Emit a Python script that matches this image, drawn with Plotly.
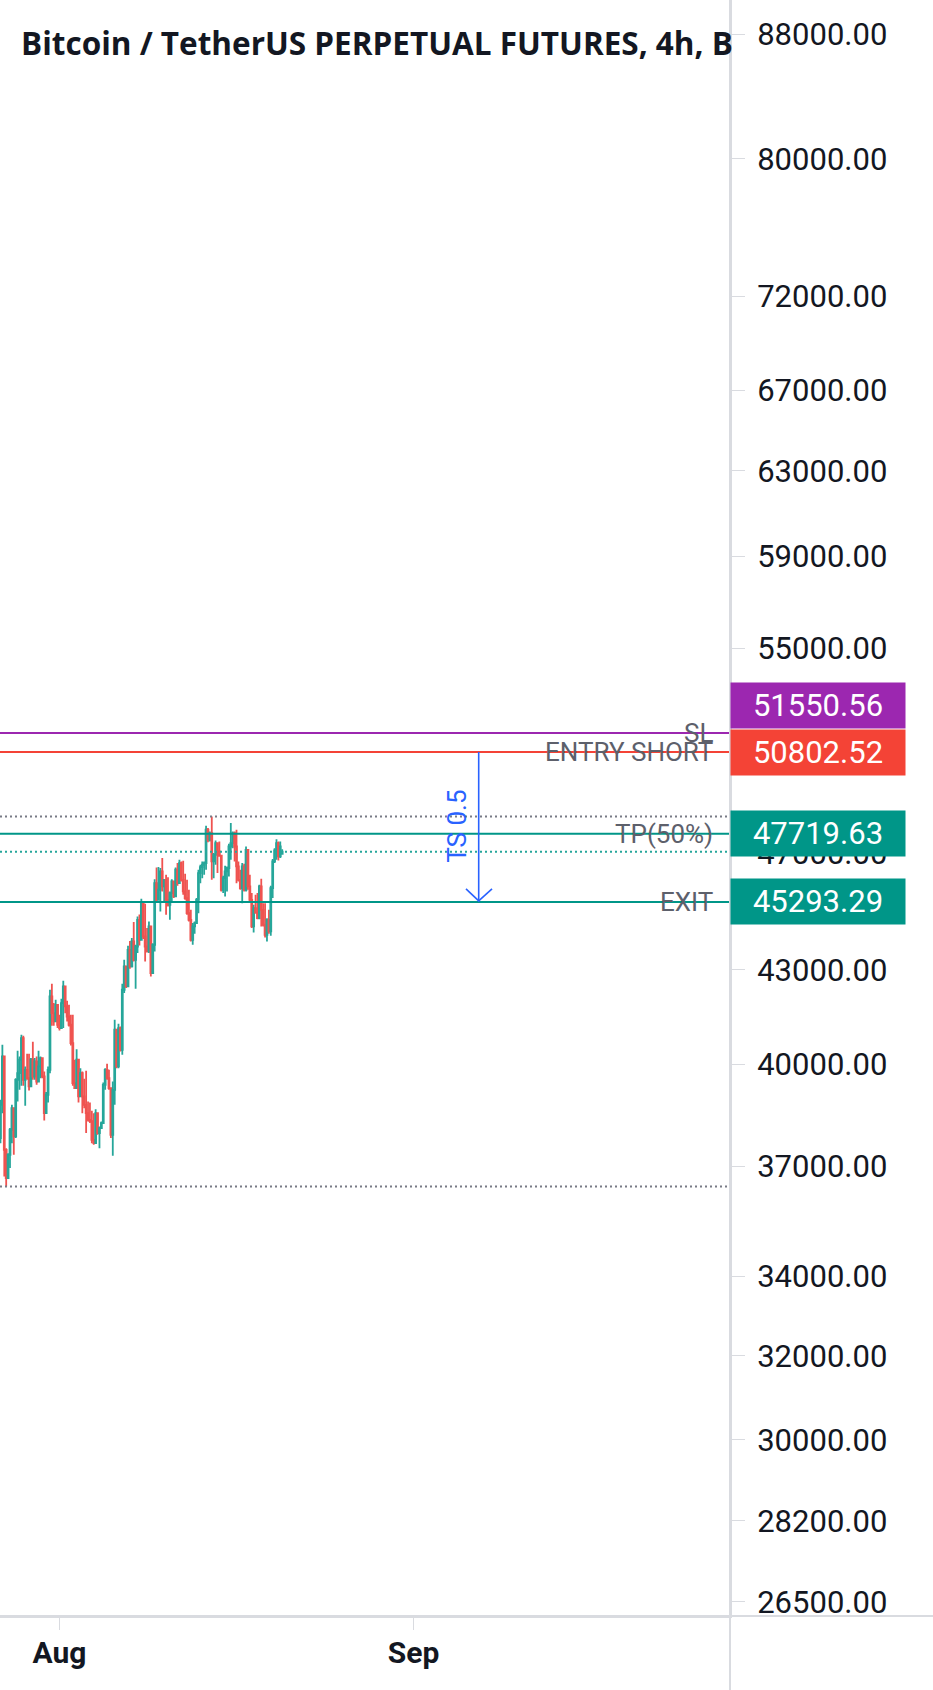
import math
import pandas as pd
import plotly.graph_objects as go

# ---------------- data ----------------
open_ = [37800, 38777, 40239, 37462, 36658, 37321, 38043, 38677, 37848, 39524,
         39728, 40137, 40808, 39524, 39830, 39575, 39325, 40137, 39626, 40086,
         39474, 39932, 40188, 39626, 38528, 39076, 39830, 42132, 41594, 41332,
         41863, 41227, 41122, 41917, 42455, 41809, 41489, 41227, 40651, 39424,
         39275, 40137, 39026, 39728, 39026, 38777, 38528, 38334, 38295, 37751,
         37654, 38528, 37945, 38091, 38237, 39374, 39830, 39575, 39275, 37897,
         39225, 41070, 39932, 41122, 40444, 42347, 43111, 42455, 43663, 43111,
         43943, 43332, 43773, 44678, 43999, 45251, 44112, 43773, 43608, 44452,
         42891, 43830, 45949, 45367, 45717, 46363, 45833, 46065, 45367, 45193,
         45600, 46007, 45484, 46423, 45949, 46661, 46065, 45659, 45426, 44904,
         44678, 43999, 44452, 44565, 45367, 46304, 46518, 46601, 46661, 47866,
         47500, 47744, 46720, 46958, 47378, 47077, 46923, 45717, 46125, 46363,
         46482, 47256, 47378, 47744, 47256, 46542, 46065, 45775, 46542, 45717,
         47137, 45833, 45367, 44452, 45077, 44925, 44734, 45833, 45019, 44508,
         44169, 44678, 44282, 45775, 46720, 47113, 47378, 46899, 46994]
high = [38926, 40598, 40239, 37510, 37368, 38091, 38777, 38677, 39575, 40413,
        40239, 40913, 40881, 39932, 40321, 40321, 40188, 40693, 40188, 40239,
        40413, 40239, 40188, 39779, 39155, 39932, 42347, 42541, 41917, 42024,
        41863, 41542, 42056, 42638, 42455, 41992, 41863, 41542, 41542, 40137,
        40464, 40137, 39881, 39779, 39555, 39800, 38877, 38847, 38598, 38528,
        38648, 38548, 38140, 38285, 39444, 39881, 40014, 39830, 39275, 39474,
        41384, 41070, 41258, 41175, 42541, 43332, 43111, 43796, 43954, 44056,
        44599, 43830, 44791, 44859, 45403, 45251, 45228, 44395, 44621, 44452,
        43886, 46089, 46506, 46518, 46482, 46839, 46089, 46244, 46161, 45659,
        46089, 46007, 46506, 46661, 46780, 46720, 46744, 46280, 46065, 45717,
        45019, 44565, 44621, 45426, 46423, 46601, 46720, 46720, 48013, 47927,
        47805, 48355, 47018, 47475, 47378, 47439, 46958, 46208, 46565, 46542,
        47353, 48111, 47805, 47805, 47866, 46720, 46423, 46661, 46637, 47256,
        47161, 46244, 45600, 45193, 45542, 45600, 45891, 46101, 45251, 45251,
        44734, 45019, 45856, 46804, 47196, 47524, 47439, 47439, 47161]
low = [37654, 38528, 36706, 36427, 36658, 36942, 37654, 37321, 37800, 38877,
       39225, 39345, 39345, 38747, 39524, 39205, 39325, 39524, 39524, 39374,
       39474, 39575, 39575, 38314, 38528, 38847, 39728, 41195, 41195, 41332,
       41122, 41049, 41122, 41122, 41594, 41332, 41175, 40577, 39345, 39245,
       39275, 38847, 39026, 38528, 38677, 37945, 38285, 38237, 37654, 37606,
       37654, 37897, 37510, 38091, 38237, 39225, 39524, 39225, 37800, 37292,
       38777, 39881, 39881, 40393, 40290, 42239, 42401, 42455, 43034, 43078,
       43277, 42379, 43552, 43807, 43999, 44022, 43277, 43574, 43552, 42781,
       42891, 43608, 45274, 45367, 44960, 45659, 45309, 44847, 45135, 44678,
       45309, 45426, 45484, 45856, 45926, 46007, 45542, 45367, 44847, 44621,
       43943, 43830, 44203, 44565, 44904, 45949, 46125, 46244, 46423, 47414,
       47439, 46065, 46125, 46601, 46304, 46899, 45659, 45600, 45484, 45659,
       46185, 46780, 47196, 46720, 45949, 46007, 45717, 45251, 45659, 45659,
       45717, 45309, 44395, 44248, 44881, 44700, 44700, 44452, 44452, 44078,
       43943, 44203, 44135, 45426, 46661, 46780, 46756, 46839, 46970]
close = [38777, 40239, 37462, 36658, 37321, 38043, 38677, 37848, 39524, 39728,
         40137, 40808, 39524, 39830, 39575, 39325, 40137, 39626, 40086, 39474,
         39932, 40188, 39626, 38528, 39076, 39830, 42132, 41594, 41332, 41863,
         41227, 41122, 41917, 42455, 41809, 41489, 41227, 40651, 39424, 39275,
         40137, 39026, 39728, 39026, 38777, 38528, 38334, 38295, 37751, 37654,
         38528, 37945, 38091, 38237, 39374, 39830, 39575, 39275, 37897, 39225,
         41070, 39932, 41122, 40444, 42347, 43111, 42455, 43663, 43111, 43943,
         43332, 43773, 44678, 43999, 45251, 44112, 43773, 43608, 44452, 42891,
         43830, 45949, 45367, 45717, 46363, 45833, 46065, 45367, 45193, 45600,
         46007, 45484, 46423, 45949, 46661, 46065, 45659, 45426, 44904, 44678,
         43999, 44452, 44565, 45367, 46304, 46518, 46601, 46661, 47866, 47500,
         47744, 46720, 46958, 47378, 47077, 46923, 45717, 46125, 46363, 46482,
         47256, 47378, 47744, 47256, 46542, 46065, 45775, 46542, 45717, 47137,
         45833, 45367, 44452, 45077, 44925, 44734, 45833, 45019, 44508, 44169,
         44678, 44282, 45775, 46720, 47113, 47378, 46899, 47256, 47070]

first_candle = "2021-07-26 20:00"
times = pd.date_range(first_candle, periods=len(close), freq="4h")

ytick_vals = [88000, 80000, 72000, 67000, 63000, 59000, 55000, 47000, 43000,
              40000, 37000, 34000, 32000, 30000, 28200, 26500]
ytick_text = [f"{v:.2f}" for v in ytick_vals]
xtick_vals = ["2021-08-01", "2021-09-01"]
xtick_text = ["<b>Aug</b>", "<b>Sep</b>"]

SL = 51550.56
ENTRY = 50802.52
TP = 47719.63
EXIT = 45293.29
levels = [("SL", SL, "#9C27B0"), ("ENTRY SHORT", ENTRY, "#F44336"),
          ("TP(50%)", TP, "#009688"), ("EXIT", EXIT, "#009688")]
title_text = "Bitcoin / TetherUS PERPETUAL FUTURES, 4h, B"
arrow_text = "TS 0.5"

# ---------------- figure ----------------
W, H = 933, 1690
PW, PH = 730, 1616  # plot area size in px
fig = go.Figure()
fig.add_trace(go.Candlestick(
    x=times, open=open_, high=high, low=low, close=close,
    increasing=dict(line=dict(color="#26a69a", width=1.8), fillcolor="#26a69a"),
    decreasing=dict(line=dict(color="#ef5350", width=1.8), fillcolor="#ef5350"),
    whiskerwidth=0, hoverinfo="skip",
))

shapes = []
# high / low dotted lines
for v in (max(high), min(low)):
    shapes.append(dict(type="line", xref="paper", x0=0, x1=1, yref="y", y0=v, y1=v,
                       line=dict(color="#787b86", width=2, dash="2px,3px")))
# current price dotted line
shapes.append(dict(type="line", xref="paper", x0=0, x1=1, yref="y", y0=close[-1], y1=close[-1],
                   line=dict(color="#26a69a", width=2, dash="2px,3px")))
# level lines
for name, v, col in levels:
    shapes.append(dict(type="line", xref="paper", x0=0, x1=1, yref="y", y0=v, y1=v,
                       line=dict(color=col, width=2)))
# blue arrow
ax_x = 478.7 / PW
shapes.append(dict(type="line", xref="paper", x0=ax_x, x1=ax_x, yref="y", y0=ENTRY, y1=EXIT,
                   line=dict(color="#2962FF", width=1.6)))
for dx in (-12.7, 13.3):
    shapes.append(dict(type="line", xref="paper", x0=ax_x + dx / PW, x1=ax_x,
                       yref="y", ysizemode="pixel", yanchor=EXIT, y0=13, y1=1,
                       line=dict(color="#2962FF", width=1.6)))
# axis border extensions
shapes.append(dict(type="line", xref="paper", x0=0, x1=W / PW, yref="paper", y0=0, y1=0,
                   line=dict(color="#d9dbe0", width=2)))
shapes.append(dict(type="line", xref="paper", x0=1, x1=1, yref="paper", y0=-(H - PH) / PH, y1=1,
                   line=dict(color="#d9dbe0", width=2)))

annotations = []
annotations.append(dict(text=title_text, xref="paper", x=19 / PW, xanchor="left",
                        yref="paper", y=1 - 43 / PH, yanchor="middle", showarrow=False,
                        font=dict(family="Open Sans", size=31.5, color="#131722", weight="bold")))
for name, v, col in levels:
    annotations.append(dict(text=name, xref="paper", x=715 / PW, xanchor="right",
                            yref="y", y=math.log10(v), yanchor="middle", showarrow=False,
                            font=dict(family="Roboto", size=26, color="#5d606b")))
for name, v, col in levels:
    annotations.append(dict(text=f"{v:.2f}", xref="paper", x=1, xanchor="left",
                            yref="y", y=math.log10(v), yanchor="middle",
                            yshift=27 if name == "SL" else 0, showarrow=False,
                            bgcolor=col, width=170, height=41, borderpad=2, align="center",
                            font=dict(family="Roboto", size=31, color="#ffffff")))
annotations.append(dict(text=arrow_text, xref="paper", x=457 / PW, yref="paper",
                        y=1 - 826.7 / PH, textangle=-90, showarrow=False,
                        font=dict(family="Roboto", size=26, color="#2962FF")))

fig.update_layout(
    width=W, height=H,
    margin=dict(l=0, r=W - PW, t=0, b=H - PH, pad=0),
    paper_bgcolor="#ffffff", plot_bgcolor="#ffffff",
    showlegend=False,
    shapes=shapes, annotations=annotations,
    xaxis=dict(type="date", range=["2021-07-26 19:00", "2021-09-28 17:00"],
               rangeslider=dict(visible=False), showgrid=False, zeroline=False,
               tickvals=xtick_vals, ticktext=xtick_text, ticks="outside", ticklen=12,
               tickcolor="#d9dbe0", tickwidth=1, showline=True, linecolor="#d9dbe0", linewidth=2,
               ticklabelstandoff=-3,
               tickfont=dict(family="Roboto", size=30, color="#131722")),
    yaxis=dict(type="log", side="right",
               range=[math.log10(26217), math.log10(90354)],
               showgrid=False, zeroline=False,
               tickvals=ytick_vals, ticktext=ytick_text, ticks="outside", ticklen=13,
               tickcolor="#d9dbe0", tickwidth=1, showline=True, linecolor="#d9dbe0", linewidth=2,
               ticklabelstandoff=6,
               tickfont=dict(family="Roboto", size=31, color="#131722")),
)

fig.write_html("out.html", post_script="document.body.style.margin='0';",
               config={"displayModeBar": False})
